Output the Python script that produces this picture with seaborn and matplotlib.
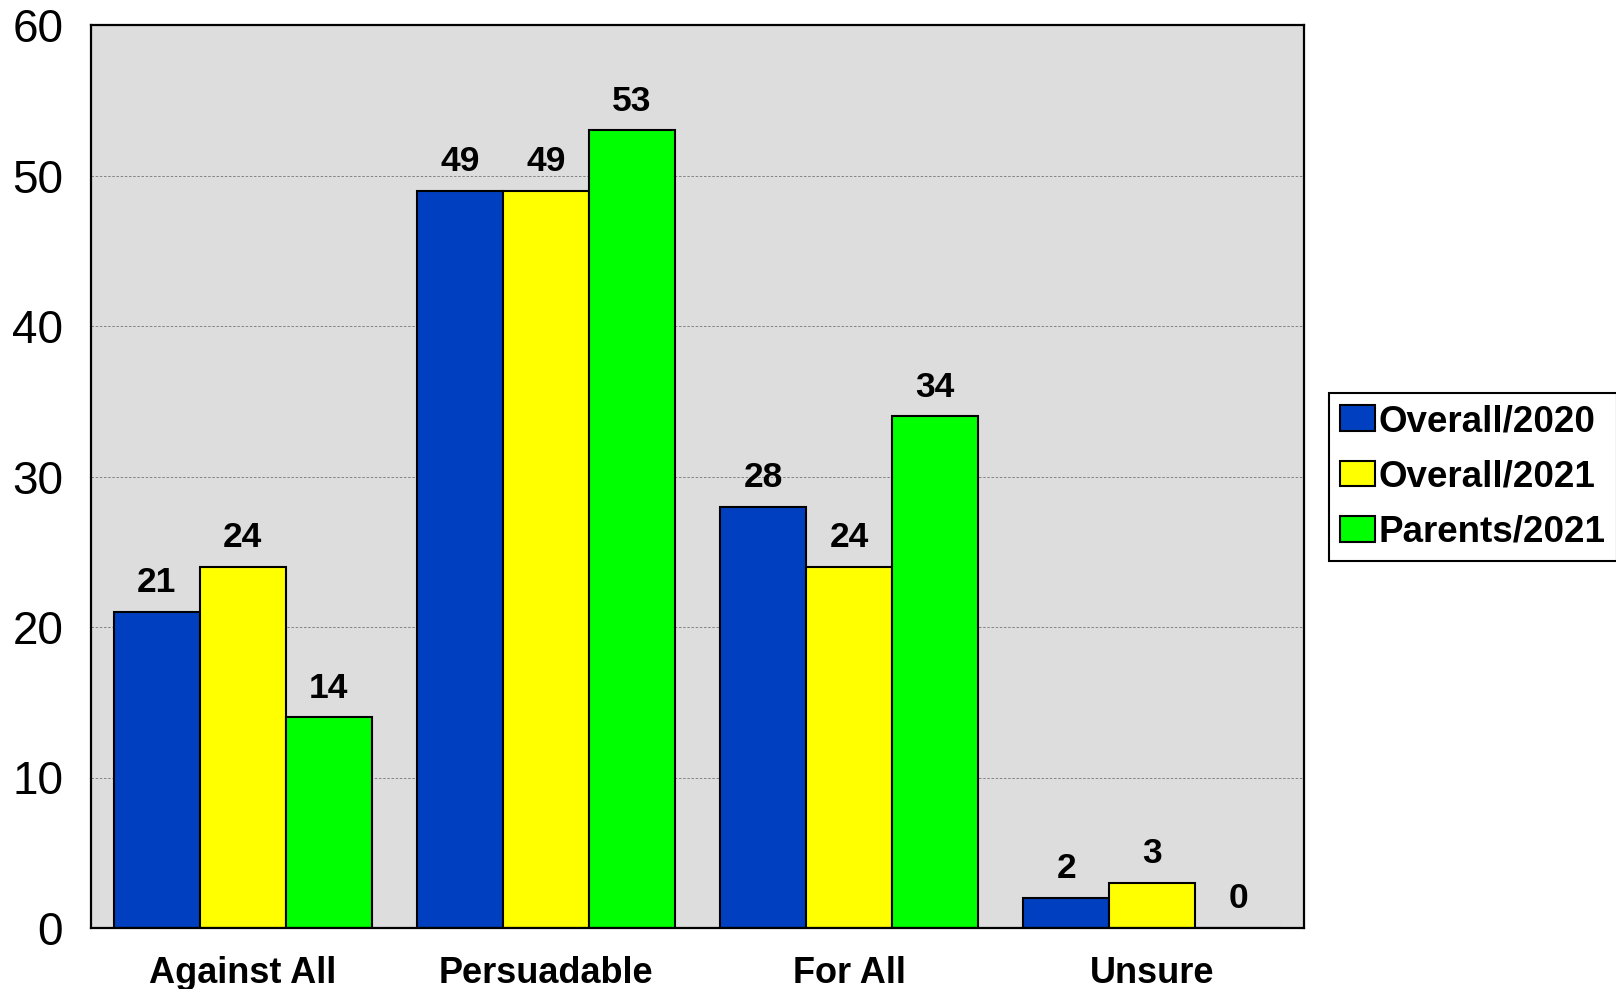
import pandas as pd
import numpy as np
import matplotlib
matplotlib.use("Agg")
import matplotlib.pyplot as plt
import seaborn as sns

categories = ["Against All", "Persuadable", "For All", "Unsure"]
groups = ["Overall/2020", "Overall/2021", "Parents/2021"]
overall_2020 = [21, 49, 28, 2]
overall_2021 = [24, 49, 24, 3]
parents_2021 = [14, 53, 34, 0]
colors = ["#0040C0", "#FFFF00", "#00FF00"]

df = pd.DataFrame({
    "category": categories * 3,
    "group": [groups[0]] * 4 + [groups[1]] * 4 + [groups[2]] * 4,
    "value": overall_2020 + overall_2021 + parents_2021,
})

sns.set_style("white")
plt.rcParams["font.family"] = ["Liberation Sans", "DejaVu Sans"]
plt.rcParams["text.color"] = "black"
plt.rcParams["xtick.color"] = "black"
plt.rcParams["ytick.color"] = "black"

fig = plt.figure(figsize=(16.16, 9.89), dpi=100)
ax = fig.add_axes([91 / 1616, 1 - 928 / 989, (1304 - 91) / 1616, (928 - 25) / 989])
ax.set_facecolor("#DDDDDD")

sns.barplot(data=df, x="category", y="value", hue="group", palette=colors,
            width=0.85, edgecolor="black", linewidth=1.5, saturation=1, ax=ax,
            legend=True)

for c in ax.containers:
    ax.bar_label(c, fmt="%d", padding=9, fontsize=25.5, fontweight="bold", color="black")

ax.set_ylim(0, 60)
ax.set_xlim(-0.5, 3.5)
ax.set_yticks(range(0, 61, 10))
ax.yaxis.grid(True, linestyle=(0, (3, 2)), color="#777777", linewidth=0.6)
ax.set_axisbelow(True)
ax.tick_params(axis="y", length=0, pad=20, labelsize=33)
ax.tick_params(axis="x", length=0, pad=20, labelsize=26)
for lbl in ax.get_xticklabels():
    lbl.set_fontweight("bold")
ax.set_xlabel("")
ax.set_ylabel("")
for s in ax.spines.values():
    s.set_visible(True)
    s.set_color("black")
    s.set_linewidth(1.6)

ax.legend(loc="upper left", bbox_to_anchor=(1329 / 1616, 1 - 393 / 989),
          bbox_transform=fig.transFigure, prop={"weight": "bold", "size": 26.5},
          frameon=True, fancybox=False, edgecolor="black", framealpha=1,
          handlelength=0.95, handleheight=0.7, handletextpad=0.1,
          labelspacing=0.55, borderpad=0.3, borderaxespad=0)
ax.get_legend().get_frame().set_linewidth(1.5)

fig.savefig("out.png", dpi=100, facecolor="white")
